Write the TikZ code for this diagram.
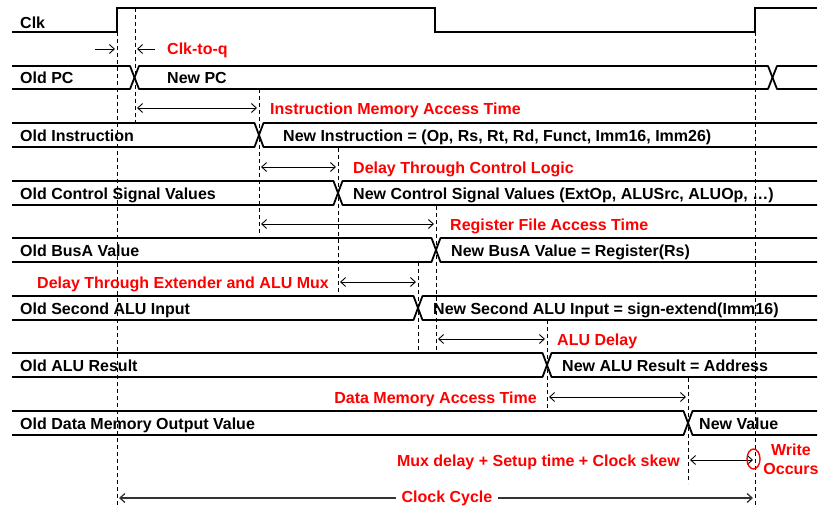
\documentclass[tikz,border=0pt]{standalone}
\usepackage{fontspec}
\setmainfont{Liberation Sans}
\usetikzlibrary{arrows.meta}

% one bus row: top edge, bottom edge, crossing point
\newcommand{\busrow}[3]{%
  \draw[sig] (12,#1) -- (#3-4.5,#1) -- (#3+4.5,#2) -- (817,#2);
  \draw[sig] (12,#2) -- (#3-4.5,#2) -- (#3+4.5,#1) -- (817,#1);
}

\tikzset{tipb/.tip={Straight Barb[length=5pt,width=9pt]}}

\begin{document}
\begin{tikzpicture}[x=1pt,y=-1pt,
  sig/.style={line width=1.8pt, line join=round},
  guide/.style={line width=0.9pt, dash pattern=on 4pt off 3pt},
  span/.style={line width=0.9pt, {tipb}-{tipb}, shorten <=2pt, shorten >=2pt},
  lbl/.style={font=\bfseries\fontsize{16}{19}\selectfont, inner sep=0pt, anchor=base west},
  note/.style={lbl, text=red}]
\useasboundingbox (0,0) rectangle (819,508);

% time marks
\coordinate (t0) at (117,0);
\coordinate (t1) at (135,0);
\coordinate (t2) at (259,0);
\coordinate (t3) at (338,0);
\coordinate (t4) at (418,0);
\coordinate (t5) at (436,0);
\coordinate (t6) at (547,0);
\coordinate (t7) at (688,0);
\coordinate (t8) at (755,0);

% clock
\draw[sig, line join=miter] (12,32) -- (117,32) -- (117,8) -- (435,8) -- (435,32) -- (755,32) -- (755,8) -- (817,8);
\node[lbl] (clk) at (20,28.5) {Clk};

% PC bus with two transitions
\draw[sig] (12,66) -- (130,66) -- (139,89) -- (768,89) -- (777,66) -- (817,66);
\draw[sig] (12,89) -- (130,89) -- (139,66) -- (768,66) -- (777,89) -- (817,89);
\node[lbl] (oldpc) at (20,84) {Old PC};
\node[lbl] (newpc) at (167,84) {New PC};

% remaining buses
\busrow{123}{147}{259}
\node[lbl] (oldins) at (20,141.5) {Old Instruction};
\node[lbl] (newins) at (283,141.5) {New Instruction = (Op, Rs, Rt, Rd, Funct, Imm16, Imm26)};

\busrow{181}{205}{338}
\node[lbl] (oldctl) at (20,199.5) {Old Control Signal Values};
\node[lbl] (newctl) at (353,199.5) {New Control Signal Values (ExtOp, ALUSrc, ALUOp, \ldots)};

\busrow{238}{262}{436}
\node[lbl] (oldbusa) at (20,256.5) {Old BusA Value};
\node[lbl] (newbusa) at (451,256.5) {New BusA Value = Register(Rs)};

\busrow{296}{320}{418}
\node[lbl] (oldalu2) at (20,314.5) {Old Second ALU Input};
\node[lbl] (newalu2) at (433,314.5) {New Second ALU Input = sign-extend(Imm16)};

\busrow{353}{377}{547}
\node[lbl] (oldres) at (20,371.5) {Old ALU Result};
\node[lbl] (newres) at (562,371.5) {New ALU Result = Address};

\busrow{411}{435}{688}
\node[lbl] (oldmem) at (20,429.5) {Old Data Memory Output Value};
\node[lbl] (newmem) at (699,429.5) {New Value};

% dashed guides
\draw[guide] (t0 |- 0,32)  -- (t0 |- 0,508);
\draw[guide] (t1 |- 0,8)   -- (t1 |- 0,123);
\draw[guide] (t2 |- 0,89)  -- (t2 |- 0,235);
\draw[guide] (t3 |- 0,148) -- (t3 |- 0,293);
\draw[guide] (t4 |- 0,262) -- (t4 |- 0,352);
\draw[guide] (t5 |- 0,206) -- (t5 |- 0,352);
\draw[guide] (t6 |- 0,320) -- (t6 |- 0,410);
\draw[guide] (t7 |- 0,378) -- (t7 |- 0,483);
\draw[guide] (t8 |- 0,32)  -- (t8 |- 0,508);

% clk-to-q
\coordinate (cq1) at (95,49);
\coordinate (cq2) at (155,49);
\draw[line width=0.9pt, -{tipb}, shorten >=2pt] (cq1) -- (t0 |- cq1);
\draw[line width=0.9pt, -{tipb}, shorten >=2pt] (cq2) -- (t1 |- cq2);
\node[note] (ncq) at (167,55) {Clk-to-q};

% delay spans
\draw[span] (t1 |- 0,108) -- (t2 |- 0,108);
\node[note] (nimem) at (270,114.5) {Instruction Memory Access Time};

\draw[span] (t2 |- 0,167) -- (t3 |- 0,167);
\node[note] (nctl) at (353,173.5) {Delay Through Control Logic};

\draw[span] (t2 |- 0,224) -- (t5 |- 0,224);
\node[note] (nrf) at (450,230.5) {Register File Access Time};

\draw[span] (t3 |- 0,282) -- (t4 |- 0,282);
\node[note, anchor=base east] (next) at (329,288.5) {Delay Through Extender and ALU Mux};

\draw[span] (t5 |- 0,339) -- (t6 |- 0,339);
\node[note] (nalu) at (557,345.5) {ALU Delay};

\draw[span] (t6 |- 0,397) -- (t7 |- 0,397);
\node[note, anchor=base east] (ndm) at (537,403.5) {Data Memory Access Time};

\draw[span] (t7 |- 0,460) -- (t8 |- 0,460);
\node[note, anchor=base east] (nmux) at (680,466) {Mux delay + Setup time + Clock skew};

% write point
\draw[red, line width=1.4pt] (753.5,459) ellipse [x radius=6.5, y radius=10];
\node[note, anchor=north, align=center] (nwr) at (791,444) {Write\\Occurs};

% clock cycle
\draw[span, line width=1.3pt, black!80] (t0 |- 0,498) -- (t8 |- 0,498);
\node[note, anchor=center, fill=white, inner xsep=6pt, inner ysep=2pt] (ncyc) at (447,498) {Clock Cycle};
\end{tikzpicture}
\end{document}
